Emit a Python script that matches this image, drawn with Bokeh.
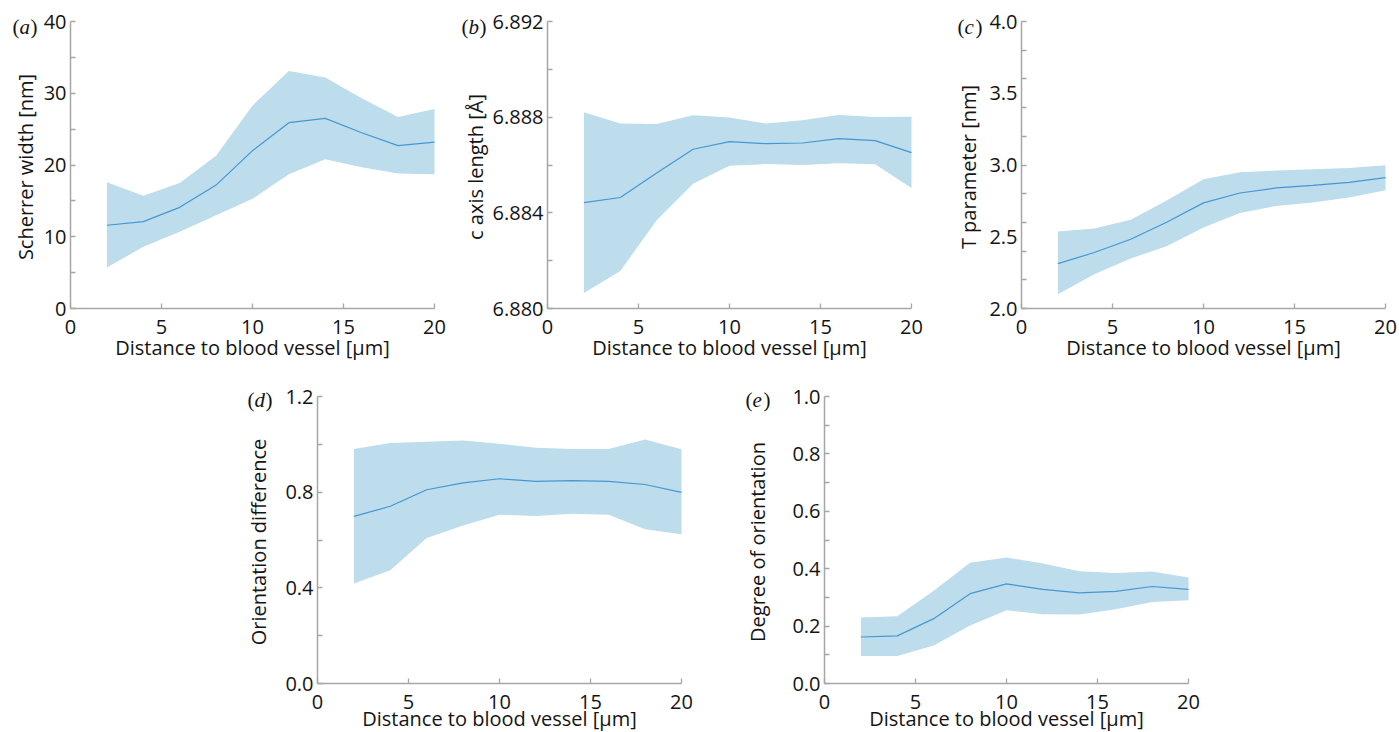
import math
from bokeh.plotting import figure
from bokeh.models import Range1d, FixedTicker, PrintfTickFormatter, Label, Spacer
from bokeh.layouts import row, column
from bokeh.embed import file_html
from bokeh.resources import INLINE

# ---------------- data ----------------
distance = [2, 4, 6, 8, 10, 12, 14, 16, 18, 20]

scherrer_mean = [11.6, 12.1, 14.1, 17.2, 22.0, 25.9, 26.5, 24.5, 22.7, 23.2]
scherrer_low = [5.7, 8.6, 10.7, 13.0, 15.3, 18.7, 20.8, 19.7, 18.8, 18.7]
scherrer_high = [17.6, 15.7, 17.5, 21.3, 28.3, 33.1, 32.2, 29.3, 26.7, 27.8]

caxis_mean = [6.88443, 6.88464, 6.88567, 6.88666, 6.88698, 6.88689, 6.88692, 6.88710, 6.88702, 6.88652]
caxis_low = [6.88065, 6.88157, 6.88369, 6.88522, 6.88597, 6.88604, 6.88600, 6.88607, 6.88603, 6.88504]
caxis_high = [6.88821, 6.88773, 6.88771, 6.88808, 6.88799, 6.88773, 6.88787, 6.88809, 6.88801, 6.88802]

tparam_mean = [2.313, 2.390, 2.483, 2.603, 2.736, 2.805, 2.840, 2.858, 2.879, 2.912]
tparam_low = [2.100, 2.239, 2.348, 2.436, 2.564, 2.666, 2.715, 2.738, 2.773, 2.824]
tparam_high = [2.536, 2.557, 2.619, 2.754, 2.900, 2.949, 2.961, 2.970, 2.979, 2.998]

orient_mean = [0.699, 0.741, 0.810, 0.839, 0.856, 0.845, 0.848, 0.845, 0.832, 0.799]
orient_low = [0.418, 0.473, 0.608, 0.661, 0.706, 0.700, 0.710, 0.706, 0.645, 0.624]
orient_high = [0.981, 1.006, 1.011, 1.016, 1.002, 0.986, 0.981, 0.981, 1.020, 0.979]

degree_mean = [0.162, 0.166, 0.226, 0.313, 0.347, 0.328, 0.316, 0.321, 0.338, 0.328]
degree_low = [0.096, 0.096, 0.132, 0.202, 0.255, 0.241, 0.240, 0.259, 0.284, 0.290]
degree_high = [0.230, 0.234, 0.323, 0.421, 0.439, 0.418, 0.391, 0.385, 0.390, 0.369]

# tick labels / tick positions
x_labels = [0, 5, 10, 15, 20]
a_labels = [0, 10, 20, 30, 40]
a_ticks = [0, 5, 10, 15, 20, 25, 30, 35, 40]
b_labels = [6.880, 6.884, 6.888, 6.892]
b_ticks = [6.880, 6.882, 6.884, 6.886, 6.888, 6.890, 6.892]
c_labels = [2.0, 2.5, 3.0, 3.5, 4.0]
c_ticks = [2.0, 2.2, 2.4, 2.6, 2.8, 3.0, 3.2, 3.4, 3.6, 3.8, 4.0]
d_labels = [0.0, 0.4, 0.8, 1.2]
d_ticks = [0.0, 0.2, 0.4, 0.6, 0.8, 1.0, 1.2]
e_labels = [0.0, 0.2, 0.4, 0.6, 0.8, 1.0]
e_ticks = [0.0, 0.1, 0.2, 0.3, 0.4, 0.5, 0.6, 0.7, 0.8, 0.9, 1.0]

XLABEL = "Distance to blood vessel [μm]"

# ---------------- style ----------------
FONT = "Open Sans"
SERIF = "Liberation Serif"
FILL = "#bddcec"
LINE = "#4597d3"
AXIS = "#a6a6a6"
TEXT = "#141414"
FW = 364  # plot area width (px)
FH = 287  # plot area height (px)


def panel(tag, mean, lo, hi, y0, y1, y_lab, y_tk, yfmt, ylabel,
          fig_w, fig_h, left, top, tag_dx, tag_dy, ylab_dx, xlab_dy, xstand):
    # the frame covers the whole figure; axes are drawn at fixed locations
    ppx = FW / 20.0
    ppy = FH / (y1 - y0)
    xr = Range1d(-left / ppx, (fig_w - left) / ppx)
    yr = Range1d(y0 - (fig_h - top - FH) / ppy, y1 + top / ppy)
    p = figure(width=fig_w, height=fig_h, x_range=xr, y_range=yr,
               output_backend="svg", toolbar_location=None,
               min_border=0, min_border_left=0, min_border_right=0,
               min_border_top=0, min_border_bottom=0)
    p.outline_line_color = None
    p.grid.visible = False
    p.background_fill_color = "white"
    p.border_fill_color = "white"

    p.varea(x=distance, y1=lo, y2=hi, fill_color=FILL, fill_alpha=1.0)
    p.line(distance, mean, line_color=LINE, line_width=1.2)

    for ax in (p.xaxis[0], p.yaxis[0]):
        ax.fixed_location = 0 if ax is p.yaxis[0] else y0
        ax.axis_line_color = AXIS
        ax.axis_line_width = 1.5
        ax.major_tick_in = 0
        ax.major_tick_out = 0
        ax.minor_tick_in = 5
        ax.minor_tick_out = 0
        ax.minor_tick_line_color = AXIS
        ax.minor_tick_line_width = 1.3
        ax.major_label_text_font = FONT
        ax.major_label_text_font_size = "20px"
        ax.major_label_text_color = TEXT

    p.xaxis.bounds = (0, 20)
    p.xaxis.major_label_standoff = xstand
    p.xaxis.ticker = FixedTicker(ticks=x_labels, minor_ticks=x_labels)
    p.xaxis.formatter = PrintfTickFormatter(format="%d")

    p.yaxis.bounds = (y0, y1)
    p.yaxis.major_label_standoff = 4
    p.yaxis.ticker = FixedTicker(ticks=y_lab, minor_ticks=y_tk)
    p.yaxis.formatter = PrintfTickFormatter(format=yfmt)

    # y axis title (rotated)
    p.add_layout(Label(x=0, y=(y0 + y1) / 2, x_offset=ylab_dx, y_offset=-2,
                       text=ylabel, angle=90, angle_units="deg",
                       text_align="center", text_baseline="middle",
                       text_font=FONT, text_font_size="20px", text_color=TEXT))

    # x axis title
    p.add_layout(Label(x=10, y=y0, y_offset=xlab_dy, text=XLABEL,
                       text_align="center", text_baseline="middle",
                       text_font=FONT, text_font_size="20px", text_color=TEXT))

    # panel tag "(a)" with upright parentheses and italic letter
    for txt, dx, style in (("(", 0, "normal"), (tag, 7, "italic"), (")", 18, "normal")):
        p.add_layout(Label(x=0, y=y1, x_offset=tag_dx + dx, y_offset=tag_dy,
                           text=txt, text_align="left", text_baseline="middle",
                           text_font=SERIF, text_font_size="21px",
                           text_font_style=style, text_color=TEXT))
    return p


pa = panel("a", scherrer_mean, scherrer_low, scherrer_high, 0, 40,
           a_labels, a_ticks, "%d", "Scherrer width [nm]",
           455, 378, 70, 21, -58, -5, -45, -39, 11)
pb = panel("b", caxis_mean, caxis_low, caxis_high, 6.880, 6.892,
           b_labels, b_ticks, "%.3f", "c axis length [Å]",
           495, 378, 92, 21, -86, -5, -72, -39, 11)
pc = panel("c", tparam_mean, tparam_low, tparam_high, 2.0, 4.0,
           c_labels, c_ticks, "%.1f", "T parameter [nm]",
           449, 378, 71, 21, -64, -5, -53, -39, 11)
pd_ = panel("d", orient_mean, orient_low, orient_high, 0.0, 1.2,
            d_labels, d_ticks, "%.1f", "Orientation difference",
            495, 354, 77, 18, -70, -3, -59, -35, 11)
pe = panel("e", degree_mean, degree_low, degree_high, 0.0, 1.0,
           e_labels, e_ticks, "%.1f", "Degree of orientation",
           474, 354, 89, 18, -79, -3, -67, -35, 11)

layout = column(row(pa, pb, pc), row(Spacer(width=240, height=354), pd_, pe))

open("out.html", "w").write(file_html(layout, INLINE))
